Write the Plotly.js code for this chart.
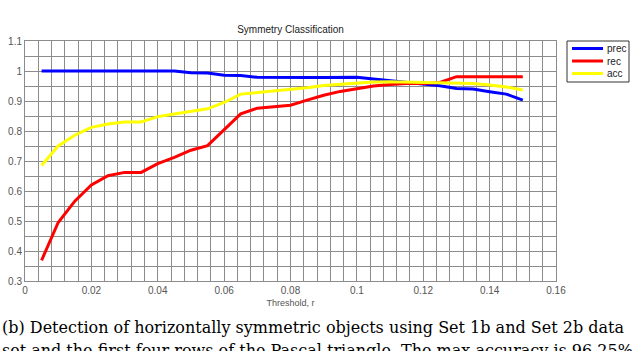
<!DOCTYPE html>
<html>
<head>
<meta charset="utf-8">
<script src="https://cdn.plot.ly/plotly-3.0.1.min.js"></script>
<style>
  body { margin: 0; background: #fff; }
  #chart { width: 640px; height: 351px; }
</style>
</head>
<body>
<div id="chart"></div>
<script>
// threshold r and the three curves
let threshold = [0.005, 0.010, 0.015, 0.020, 0.025, 0.030, 0.035, 0.040, 0.045, 0.050,
                 0.055, 0.060, 0.065, 0.070, 0.075, 0.080, 0.085, 0.090, 0.095, 0.100,
                 0.105, 0.110, 0.115, 0.120, 0.125, 0.130, 0.135, 0.140, 0.145, 0.150];
let prec = [1, 1, 1, 1, 1, 1, 1, 1, 1, 0.994,
            0.993, 0.986, 0.985, 0.979, 0.978, 0.978, 0.978, 0.978, 0.978, 0.979,
            0.973, 0.967, 0.962, 0.956, 0.951, 0.942, 0.940, 0.931, 0.923, 0.903];
let rec = [0.369, 0.495, 0.566, 0.620, 0.651, 0.662, 0.662, 0.691, 0.712, 0.736,
           0.751, 0.805, 0.857, 0.876, 0.881, 0.886, 0.903, 0.919, 0.932, 0.940,
           0.950, 0.955, 0.958, 0.958, 0.962, 0.981, 0.981, 0.981, 0.981, 0.981];
let acc = [0.685, 0.750, 0.786, 0.812, 0.823, 0.830, 0.830, 0.848, 0.857, 0.865,
           0.874, 0.895, 0.923, 0.928, 0.933, 0.938, 0.944, 0.952, 0.956, 0.960,
           0.963, 0.964, 0.963, 0.962, 0.962, 0.960, 0.958, 0.953, 0.947, 0.937];
let names = ['prec', 'rec', 'acc'];
let colors = ['#0000ff', '#ff0000', '#ffff00'];
let captionLines = [
    '(b) Detection of horizontally symmetric objects using Set 1b and Set 2b data',
    'set and the first four rows of the Pascal triangle. The max accuracy is 96.25%'
];

// plot box in pixels, used to place legend and caption in paper units
let L = 25, R = 556, T = 41, B = 281;
function px(x) { return (x - L) / (R - L); }
function py(y) { return (B - y) / (B - T); }

let series = [prec, rec, acc];
let traces = [];
let shapes = [];
let annotations = [];

// legend box (drawn by hand so it stays as compact as the original)
shapes.push({
    type: 'rect', xref: 'paper', yref: 'paper',
    x0: px(567), x1: px(629), y0: py(82), y1: py(41),
    line: {color: '#333', width: 1}, fillcolor: '#fff', layer: 'above'
});

for (let k = 0; k < series.length; k++) {
    traces.push({
        mode: 'lines',
        type: 'scatter',
        name: names[k],
        x: threshold,
        y: series[k],
        line: {color: colors[k], width: 3}
    });
    let ly = 48.5 + k * 12.5;
    shapes.push({
        type: 'line', xref: 'paper', yref: 'paper',
        x0: px(572), x1: px(603), y0: py(ly), y1: py(ly),
        line: {color: colors[k], width: 3}, layer: 'above'
    });
    annotations.push({
        text: names[k], xref: 'paper', yref: 'paper',
        x: px(605), y: py(ly), xanchor: 'left', yanchor: 'middle',
        showarrow: false,
        font: {size: 10, color: '#222'}
    });
}

let captionY = [327, 350];
for (let k = 0; k < captionLines.length; k++) {
    annotations.push({
        text: captionLines[k],
        xref: 'paper', yref: 'paper',
        x: px(0), y: py(captionY[k]), xanchor: 'left', yanchor: 'middle',
        showarrow: false,
        font: {family: 'DejaVu Serif, Liberation Serif, serif', size: 16, color: '#000'}
    });
}

let grid = '#8c8c8c';
let layout = {
    width: 640,
    height: 351,
    margin: {l: L, r: 640 - R, t: T, b: 351 - B},
    paper_bgcolor: '#fff',
    plot_bgcolor: '#fff',
    font: {family: 'Liberation Sans, Arial, sans-serif', size: 10, color: '#555'},
    showlegend: false,
    title: {
        text: 'Symmetry Classification',
        x: 0.454, xanchor: 'center',
        y: 1 - 29 / 351, yanchor: 'middle',
        font: {size: 10, color: '#222'}
    },
    xaxis: {
        range: [0, 0.16],
        dtick: 0.02,
        tick0: 0,
        showgrid: true, gridcolor: grid, gridwidth: 1,
        minor: {dtick: 0.004, showgrid: true, gridcolor: grid, gridwidth: 1},
        zeroline: false,
        showline: true, mirror: true, linecolor: grid, linewidth: 1,
        ticks: '', ticklen: 0,
        tickfont: {size: 10, color: '#555'},
        title: {text: 'Threshold, r', standoff: 4, font: {size: 9, color: '#555'}}
    },
    yaxis: {
        range: [0.3, 1.1],
        dtick: 0.1,
        tick0: 0.3,
        showgrid: true, gridcolor: grid, gridwidth: 1,
        minor: {dtick: 0.05, showgrid: true, gridcolor: grid, gridwidth: 1},
        zeroline: false,
        showline: true, mirror: true, linecolor: grid, linewidth: 1,
        ticks: '', ticklen: 0,
        tickfont: {size: 10, color: '#555'}
    },
    shapes: shapes,
    annotations: annotations
};

Plotly.newPlot('chart', traces, layout, {displayModeBar: false, staticPlot: true});
</script>
</body>
</html>
